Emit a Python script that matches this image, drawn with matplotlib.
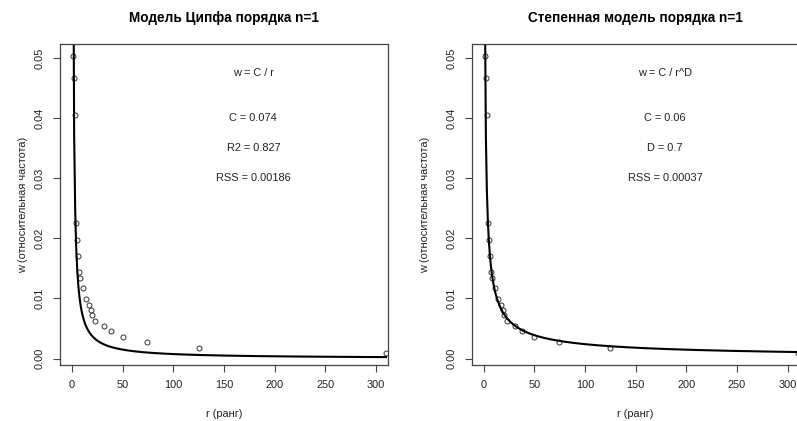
import numpy as np
import matplotlib
matplotlib.use('Agg')
import matplotlib.pyplot as plt
from matplotlib.ticker import FormatStrFormatter

plt.rcParams['font.family'] = ['Liberation Sans', 'DejaVu Sans']

# ранги и относительные частоты
ranks = [1, 2, 3, 4, 5, 6, 7, 8, 11, 14, 17, 19, 20, 23, 31, 38, 50, 74, 125, 310]
freq = [0.0503, 0.0467, 0.0405, 0.0225, 0.0197, 0.0170, 0.0144, 0.0134, 0.0117,
        0.0099, 0.0089, 0.0080, 0.0072, 0.0063, 0.0054, 0.0045, 0.0036, 0.0028,
        0.0018, 0.0009]

# параметры моделей
zipf_C = 0.074
pow_C = 0.06
pow_D = 0.7

titles = ['Модель Ципфа порядка n=1', 'Степенная модель порядка n=1']
notes = [['w = C / r', 'C = 0.074', 'R2 = 0.827', 'RSS = 0.00186'],
         ['w = C / r^D', 'C = 0.06', 'D = 0.7', 'RSS = 0.00037']]
note_y = [0.0475, 0.040, 0.035, 0.030]

r_line = np.arange(1, 311)
fits = [zipf_C / r_line, pow_C / r_line ** pow_D]

W, H = 797, 421
fig = plt.figure(figsize=(W / 100, H / 100), dpi=100)
fs = 7.9

lefts = [60, 471.7]
ylab_x = [23, 425]
for i in range(2):
    x0 = lefts[i]
    ax = fig.add_axes([x0 / W, (H - 365) / H, 328 / W, 320.7 / H])
    ax.plot(ranks, freq, 'o', mfc='none', mec='#333333', ms=3.6, mew=0.7)
    ax.plot(r_line, fits[i], color='black', lw=1.5)
    ax.set_xlim(-12, 312)
    ax.set_ylim(min(freq) - 0.04 * (max(freq) - min(freq)),
                max(freq) + 0.04 * (max(freq) - min(freq)))
    ax.set_xticks([0, 50, 100, 150, 200, 250, 300])
    ax.set_yticks([0, 0.01, 0.02, 0.03, 0.04, 0.05])
    ax.yaxis.set_major_formatter(FormatStrFormatter('%.2f'))
    ax.tick_params(length=5, width=0.8, color='#444444', labelsize=fs, labelcolor='#222222')
    ax.tick_params(axis='x', pad=6)
    ax.tick_params(axis='y', pad=6)
    for lab in ax.get_yticklabels():
        lab.set_rotation(90)
        lab.set_va('center')
    for s in ax.spines.values():
        s.set_color('#444444')
        s.set_linewidth(0.9)
    ax.set_title(titles[i], fontsize=9.8, fontweight='bold', pad=16)
    ax.set_xlabel('r (ранг)', fontsize=fs, color='#222222')
    ax.xaxis.set_label_coords(0.5, (365 - 414) / 320.7)
    ax.xaxis.label.set_va('center')
    ax.set_ylabel('w (относительная частота)', fontsize=fs, color='#222222')
    ax.yaxis.set_label_coords((ylab_x[i] - x0) / 328, 0.5)
    ax.yaxis.label.set_va('center')
    for t, yv in zip(notes[i], note_y):
        ax.text(179, yv, t, ha='center', va='center', fontsize=fs, color='#222222')

fig.savefig('out.png', dpi=100)
